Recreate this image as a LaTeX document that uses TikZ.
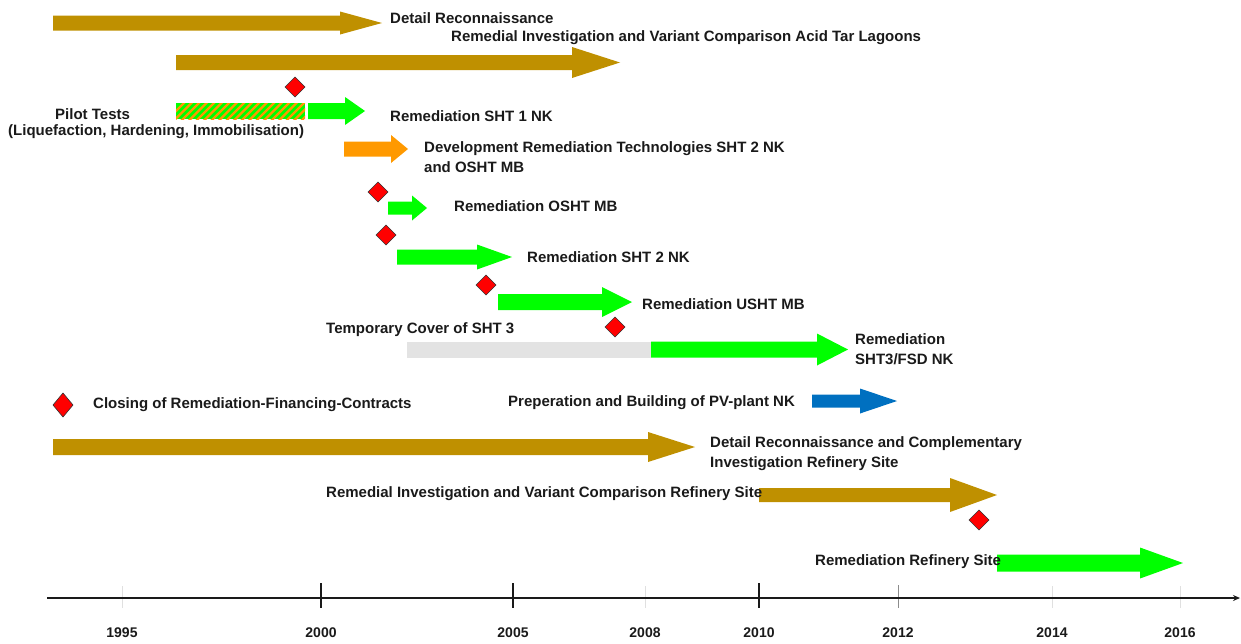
\documentclass[tikz,border=0pt]{standalone}
\usepackage{fontspec}
\setmainfont{Liberation Sans}
\usetikzlibrary{arrows.meta}

\definecolor{tar}{HTML}{BF9000}
\definecolor{lime}{HTML}{00FF00}
\definecolor{amber}{HTML}{FF9900}
\definecolor{pvblue}{HTML}{0070C0}
\definecolor{cover}{HTML}{E3E3E3}
\definecolor{ink}{HTML}{1A1A1A}
\definecolor{milered}{HTML}{FF0000}

% block arrow: x0, x1 (tip), y centre, shaft half height, head half height, head length, colour
\newcommand\blockarr[7]{%
  \fill[#7] (#1,#3-#4) -- (#2-#6,#3-#4) -- (#2-#6,#3-#5) -- (#2,#3)
    -- (#2-#6,#3+#5) -- (#2-#6,#3+#4) -- (#1,#3+#4) -- cycle;}

\tikzset{
  lbl/.style={font=\bfseries\fontsize{15}{20}\selectfont, text=ink, inner sep=0pt, anchor=west, align=left},
  yearlbl/.style={font=\bfseries\fontsize{14}{16}\selectfont, text=ink, inner sep=0pt},
  milestone/.style={draw=black!80, fill=milered, line width=0.6pt},
  majortick/.style={draw=ink, line width=1.2pt},
  minortick/.style={draw=black!12, line width=1pt},
}

\begin{document}
\begin{tikzpicture}[x=1pt, y=-1pt]
\useasboundingbox (0,0) rectangle (1241,643);

% ---- acid tar lagoons ----
\blockarr{53}{382}{23}{7.5}{11.5}{42}{tar}
\node[lbl] (dr) at (390,18) {Detail Reconnaissance};

\blockarr{176}{620}{62.5}{7.5}{15.5}{48}{tar}
\node[lbl] (ri) at (451,38) {Remedial Investigation and Variant Comparison Acid Tar Lagoons};

% pilot tests: hatched bar
\begin{scope}
  \clip (176,103) rectangle (305,119);
  \fill[lime] (176,103) rectangle (305,119);
  \foreach \i in {0,...,19} {
    \draw[amber, line width=2.2pt] (166+\i*7.5,121) -- (186+\i*7.5,101);
  }
\end{scope}
\node[lbl, anchor=west] (pt) at (55,114) {Pilot Tests};
\node[lbl, anchor=west] (ptx) at (8,132) {(Liquefaction, Hardening, Immobilisation)};

\blockarr{308}{365}{111}{8}{14}{20}{lime}
\node[lbl] (s1) at (390,116) {Remediation SHT 1 NK};

\blockarr{344}{408}{149}{7.5}{14}{17}{amber}
\node[lbl] (dev) at (424,157) {Development Remediation Technologies SHT 2 NK\\and OSHT MB};

\blockarr{388}{427}{208}{6.5}{12.5}{15}{lime}
\node[lbl] (os) at (454,206) {Remediation OSHT MB};

\blockarr{397}{512}{257}{7.5}{12.5}{35}{lime}
\node[lbl] (s2) at (527,257) {Remediation SHT 2 NK};

\blockarr{498}{632}{302}{8}{15}{30}{lime}
\node[lbl] (us) at (642,304) {Remediation USHT MB};

\fill[cover] (407,342) rectangle (651,358);
\node[lbl] (tc) at (326,330) {Temporary Cover of SHT 3};
\blockarr{651}{848}{349.5}{8}{16}{31}{lime}
\node[lbl] (s3) at (855,349) {Remediation\\SHT3/FSD NK};

% ---- milestones ----
\foreach \mx/\my [count=\k] in {295/87, 378/192, 386/235, 486/285, 615/327, 979/520} {
  \draw[milestone] (\mx,\my-10) -- (\mx+10,\my) -- (\mx,\my+10) -- (\mx-10,\my) -- cycle;
}
\draw[milestone] (63,393) -- (73,405) -- (63,417) -- (53,405) -- cycle;
\node[lbl] (leg) at (93,405) {Closing of Remediation-Financing-Contracts};

% ---- PV plant ----
\blockarr{812}{897}{401}{6.5}{12.5}{37}{pvblue}
\node[lbl] (pv) at (508,403) {Preperation and Building of PV-plant NK};

% ---- refinery site ----
\blockarr{53}{695}{447}{8}{15}{47}{tar}
\node[lbl] (drr) at (710,453.5) {Detail Reconnaissance and Complementary\\Investigation Refinery Site};

\blockarr{759}{997}{495}{7}{17}{47}{tar}
\node[lbl] (rir) at (326,494) {Remedial Investigation and Variant Comparison Refinery Site};

\blockarr{997}{1183}{563}{8.5}{15.5}{43}{lime}
\node[lbl] (rr) at (815,562) {Remediation Refinery Site};

% ---- time axis ----
\foreach \tx in {122, 645, 1052, 1180} { \draw[minortick] (\tx,586) -- (\tx,608); }
\draw[draw=black!45, line width=1pt] (898,585) -- (898,608);
\foreach \tx in {321, 513, 759} { \draw[majortick] (\tx,583) -- (\tx,608); }
\coordinate (ax0) at (47,598);
\coordinate (ax1) at (1240,598);
\draw[ink, line width=2pt, -{Stealth[length=7pt, width=6pt]}] (ax0) -- (ax1);

\foreach \tx/\yr in {122/1995, 321/2000, 513/2005, 645/2008, 759/2010, 898/2012, 1052/2014, 1180/2016} {
  \node[yearlbl] (y\yr) at (\tx,633) {\yr};
}
\end{tikzpicture}
\end{document}
